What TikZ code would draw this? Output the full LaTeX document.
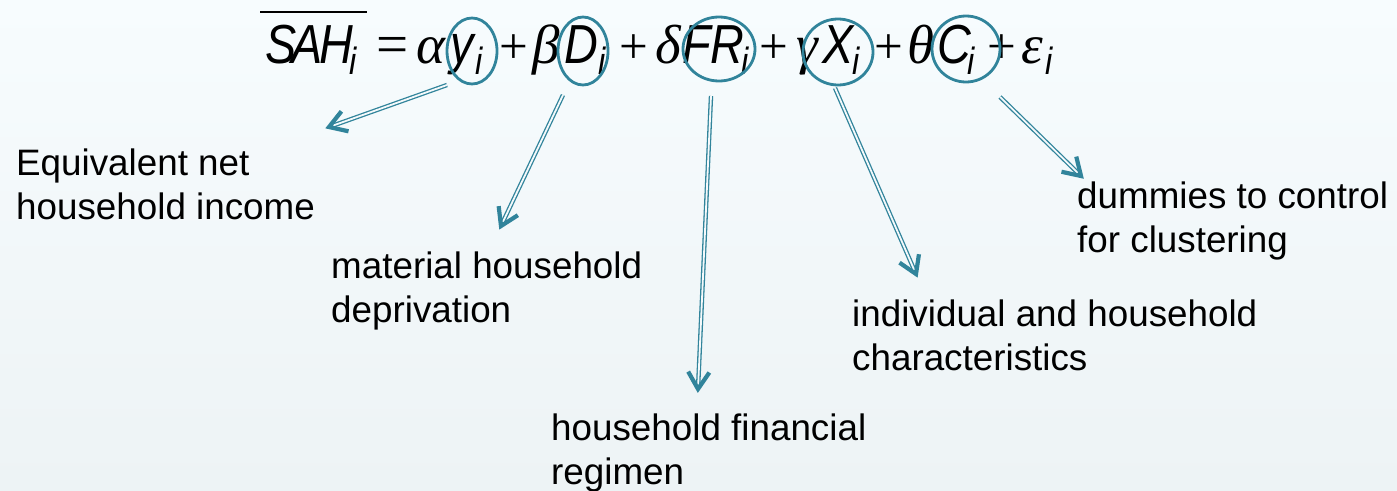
\documentclass[tikz,border=0pt]{standalone}
\usepackage{fontspec}
\setmainfont{Liberation Sans}
\newfontfamily\eqsans{Liberation Sans}[FakeStretch=0.85]
\newfontfamily\eqser{Liberation Serif}
\usetikzlibrary{shapes.geometric,arrows.meta,calc}
\definecolor{accent}{HTML}{31849B}
\definecolor{bgtop}{HTML}{F7FCFE}
\definecolor{bgbot}{HTML}{EDF3F5}
\definecolor{bgmid}{HTML}{F4F9FB}
\tikzset{
  eqL/.style={font=\fontsize{55}{60}\eqsans\itshape, inner sep=0pt, anchor=base west},
  eqSub/.style={font=\fontsize{38}{40}\eqsans\itshape, inner sep=0pt, anchor=base west},
  eqG/.style={font=\fontsize{55}{60}\eqser\itshape, inner sep=0pt, anchor=base west},
  eqOp/.style={font=\fontsize{51}{60}\eqser, inner sep=0pt, anchor=base west},
  eqEq/.style={font=\fontsize{57}{60}\eqser, inner sep=0pt, anchor=base west},
  lbl/.style={font=\fontsize{36.8}{44}\selectfont, align=left, inner sep=0pt, anchor=base west},
  circ/.style={draw=accent, line width=2.8pt, ellipse, inner sep=0pt},
  shaft/.style={draw=accent, line width=1.3pt, double=bgmid, double distance=1.8pt, shorten >=3pt},
  headline/.style={draw=accent, line width=4.2pt, line join=miter, line cap=butt},
  bar/.style={draw=black, line width=2.4pt}
}
\newcommand{\dblarrow}[2]{%
  \draw[shaft] (#1) -- (#2);
  \draw[headline] ($(#2)!20pt!32:(#1)$) -- (#2) -- ($(#2)!20pt!-32:(#1)$);}
\begin{document}
\begin{tikzpicture}[x=1pt,y=-1pt]
\useasboundingbox (0,0) rectangle (1397,490);
\shade[top color=bgtop, bottom color=bgbot] (0,0) rectangle (1397,490);

% equation
\draw[bar] (260,12) -- (367,12);
\node[eqL] (gS) at (265,63) {S};
\node[eqL] (gA) at (291,63) {A};
\node[eqL] (gH) at (319,63) {H};
\node[eqSub] (gSi) at (349,74) {i};
\node[eqEq] (gEq) at (376,63) {=};
\node[eqG] (gAl) at (416,63) {α};
\node[eqL] (gy) at (450,63) {y};
\node[eqSub] (gyi) at (475,74) {i};
\node[eqOp] (gP1) at (499,63) {+};
\node[eqG] (gBe) at (532,63) {β};
\node[eqL] (gD) at (564,63) {D};
\node[eqSub] (gDi) at (598,74) {i};
\node[eqOp] (gP2) at (619,63) {+};
\node[eqG] (gDe) at (655,63) {δ};
\node[eqL] (gF) at (682,63) {F};
\node[eqL] (gR) at (710,63) {R};
\node[eqSub] (gRi) at (741,74) {i};
\node[eqOp] (gP3) at (759,63) {+};
\node[eqG] (gGa) at (796,63) {γ};
\node[eqL] (gX) at (822,63) {X};
\node[eqSub] (gXi) at (852,74) {i};
\node[eqOp] (gP4) at (874,63) {+};
\node[eqG] (gTh) at (907,63) {θ};
\node[eqL] (gC) at (937,63) {C};
\node[eqSub] (gCi) at (967,74) {i};
\node[eqOp] (gP5) at (987,63) {+};
\node[eqG] (gEp) at (1021,63) {ε};
\node[eqSub] (gEi) at (1045,74) {i};

% circles
\node[circ, minimum width=50pt, minimum height=66pt] (cY) at (472,51) {};
\node[circ, minimum width=50pt, minimum height=68pt] (cD) at (583,51) {};
\node[circ, minimum width=72pt, minimum height=64pt] (cFR) at (719,49) {};
\node[circ, minimum width=70pt, minimum height=66pt] (cX) at (838,52) {};
\node[circ, minimum width=68pt, minimum height=66pt] (cC) at (966,49) {};

% labels (anchor at baseline of last line)
\node[lbl] (lY) at (16,219) {Equivalent net\\household income};
\node[lbl] (lD) at (331,322) {material household\\deprivation};
\node[lbl] (lFR) at (551,484) {household financial\\regimen};
\node[lbl] (lX) at (852,370) {individual and household\\characteristics};
\node[lbl] (lC) at (1077,252) {dummies to control\\for clustering};

% arrows
\coordinate (tY) at (447,85);  \coordinate (hY) at (329,127);
\coordinate (tD) at (563,95);  \coordinate (hD) at (501,226);
\coordinate (tFR) at (711,96); \coordinate (hFR) at (698,389);
\coordinate (tX) at (835,88);  \coordinate (hX) at (916,274);
\coordinate (tC) at (1000,97); \coordinate (hC) at (1081,176);
\dblarrow{tY}{hY}
\dblarrow{tD}{hD}
\dblarrow{tFR}{hFR}
\dblarrow{tX}{hX}
\dblarrow{tC}{hC}
\end{tikzpicture}
\end{document}
